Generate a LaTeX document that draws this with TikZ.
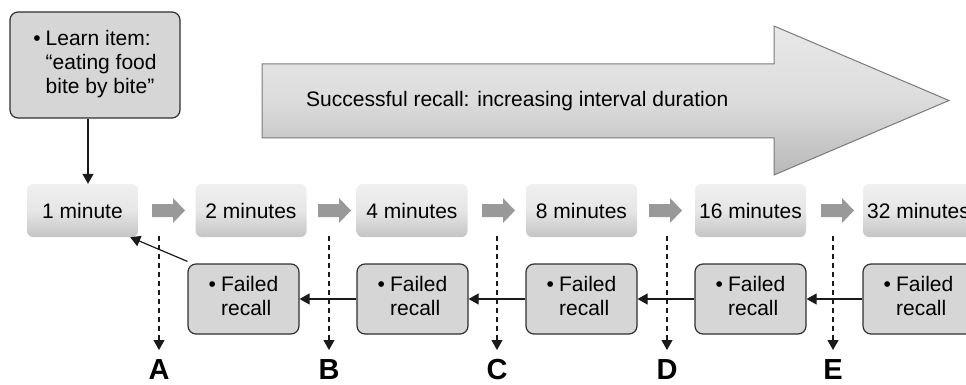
\documentclass[tikz,border=0pt]{standalone}
\usepackage{fontspec}
\setmainfont{Liberation Sans}
\usetikzlibrary{arrows.meta,calc}
\definecolor{boxfill}{HTML}{D6D6D6}
\definecolor{boxdraw}{HTML}{303030}
\definecolor{mtop}{HTML}{F0F0F0}
\definecolor{mmid}{HTML}{E6E6E6}
\definecolor{mbot}{HTML}{C4C4C4}
\definecolor{garrow}{HTML}{999999}
\definecolor{btop}{HTML}{E8E8E8}
\definecolor{bmid}{HTML}{DCDCDC}
\definecolor{bbot}{HTML}{B8B8B8}
\definecolor{bdraw}{HTML}{7A7A7A}
\definecolor{lnk}{HTML}{1A1A1A}
\newcommand\grarrow[1]{\fill[garrow] (#1,204) -- ++(21,0) -- ++(0,-6) -- ++(12,12.5) -- ++(-12,12.5) -- ++(0,-6) -- ++(-21,0) -- cycle;}
\newcommand\bul[2]{\begin{tabular}{@{}l@{\hspace{5pt}}l@{}}•&#1\\&#2\end{tabular}}
\begin{document}
\begin{tikzpicture}[x=1pt,y=-1pt,
  every node/.style={font=\fontsize{21}{24}\selectfont},
  minbox/.style={rounded corners=6pt, top color=mtop, bottom color=mbot, middle color=mmid, minimum width=111pt, minimum height=53pt, inner sep=0pt},
  failbox/.style={rounded corners=8pt, fill=boxfill, draw=boxdraw, line width=1.2pt, minimum width=111pt, minimum height=70pt, inner sep=0pt, align=center},
  conn/.style={draw=lnk, line width=1.2pt, -{Triangle[length=10pt,width=11pt]}},
  dconn/.style={conn, dash pattern=on 5pt off 4pt},
  letter/.style={font=\fontsize{29}{29}\selectfont\bfseries, anchor=base, inner sep=0pt},
]
\useasboundingbox (0,0) rectangle (966,385);
\clip (0,0) rectangle (966,385);

% big arrow
\path[draw=bdraw, line width=1pt, top color=btop, bottom color=bbot, middle color=bmid]
  (262,64) -- (774,64) -- (774,26) -- (949,100.5) -- (774,175) -- (774,138) -- (262,138) -- cycle;
\node[anchor=west, inner sep=0pt] (sr) at (306,101) {Successful recall: increasing interval duration};

% learn box
\node[failbox, minimum width=170pt, minimum height=106pt] (learn) at (95,65)
  {\begin{tabular}{@{}l@{\hspace{5pt}}l@{}}•&Learn item:\\&“eating food\\&bite by bite”\end{tabular}};

% minute boxes
\node[minbox] (m1) at (82.5,210.5) {1 minute};
\node[minbox] (m2) at (251,210.5) {2 minutes};
\node[minbox] (m4) at (412,210.5) {4 minutes};
\node[minbox] (m8) at (581.5,210.5) {8 minutes};
\node[minbox] (m16) at (750.5,210.5) {16 minutes};
\node[minbox] (m32) at (918.5,210.5) {32 minutes};

% gray arrows
\grarrow{152}
\grarrow{318}
\grarrow{482}
\grarrow{649}
\grarrow{821}

% failed boxes
\node[failbox] (f1) at (243.5,299) {\bul{Failed}{recall}};
\node[failbox] (f2) at (412.5,299) {\bul{Failed}{recall}};
\node[failbox] (f3) at (581.5,299) {\bul{Failed}{recall}};
\node[failbox] (f4) at (750.5,299) {\bul{Failed}{recall}};
\node[failbox] (f5) at (918.5,299) {\bul{Failed}{recall}};

% connectors
\draw[conn] ([xshift=-7pt]learn.south) -- ([xshift=5.5pt]m1.north);
\draw[conn] ([yshift=2pt]f1.north west) -- ([xshift=-8pt]m1.south east);
\draw[conn] (f2.west) -- (f1.east);
\draw[conn] (f3.west) -- (f2.east);
\draw[conn] (f4.west) -- (f3.east);
\draw[conn] (f5.west) -- (f4.east);

% dashed lines and letters
\foreach \x/\l in {159/A,329/B,497/C,667/D,833/E}{
  \coordinate (d\l) at (\x,236);
  \coordinate (t\l) at (\x,350);
  \node[letter] (L\l) at (\x,379) {\l};
  \draw[dconn] (d\l) -- (t\l);
}
\end{tikzpicture}
\end{document}
